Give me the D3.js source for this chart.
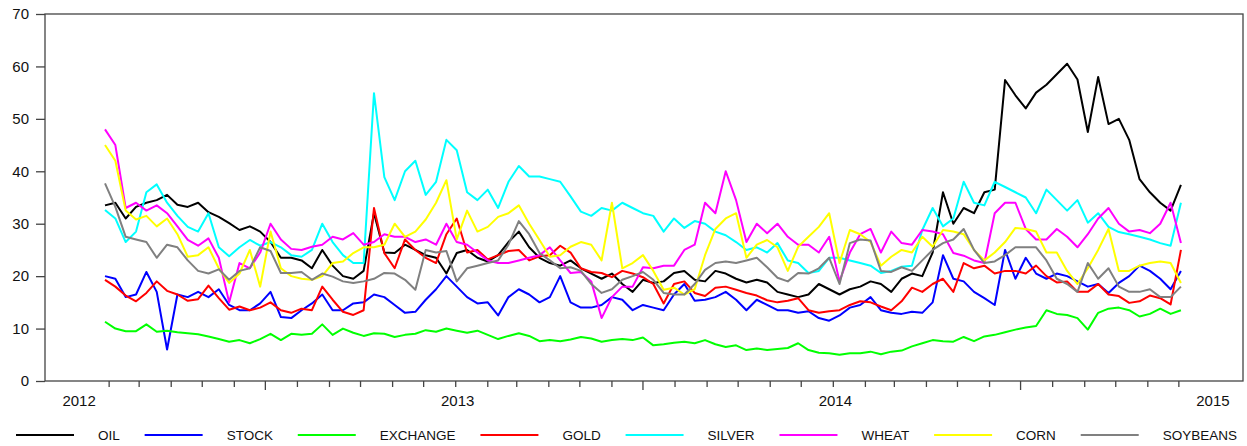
<!DOCTYPE html>
<html>
<head>
<meta charset="utf-8">
<script src="https://cdn.jsdelivr.net/npm/d3@7"></script>
<style>
  html, body { margin: 0; padding: 0; background: #fff; }
  svg { display: block; font-family: "Liberation Sans", Arial, sans-serif; }
</style>
</head>
<body>
<div id="chart"></div>
<script>
// --- Data: one observation every 10 days, starting 2012-01-28 ---
const START_DATE = Date.UTC(2012, 0, 28);
const STEP_DAYS = 10;

const SERIES_NAMES = ['OIL', 'STOCK', 'EXCHANGE', 'GOLD', 'SILVER', 'WHEAT', 'CORN', 'SOYBEANS'];
const YEAR_LABELS = [2012, 2013, 2014, 2015];
const Y_TICKS = [0, 10, 20, 30, 40, 50, 60, 70];

const OIL = [33.5,34,31,33.2,34,34.5,35.5,33.6,33.2,34,
  32.2,31.3,30.1,28.8,29.5,28.5,26.5,23.5,23.5,23,
  21.5,25,22,20,19.5,21,32,24.5,24.4,26,
  25,24,23.5,20.5,24.4,25,23.5,22.8,24,26.5,
  28.5,25.5,23.5,22.5,22,23,21.5,20.5,19.5,20.5,
  18.5,17,19.3,18.7,19,20.6,21,19.3,19,21,
  20.5,19.5,18.8,19.3,18.8,17,16.5,16,16.5,18.5,
  17.5,16.5,17.5,18,19,18.5,17,19.5,20.5,20,
  24.5,36,30,33,32,36,36.5,57.4,54.5,52,
  55,56.5,58.5,60.5,57.5,47.5,58,49,50,46,
  38.5,36,34,32.5,37.4];

const STOCK = [20,19.5,16,16.5,20.8,17,6,16.5,16,17,
  16,17.5,14.5,13.5,13.5,14.8,17,12.2,12,13.5,
  14.8,16.5,13.5,13.5,14.8,15,16.5,16,14.5,13,
  13.2,15.5,17.5,20,18,16,14.8,15,12.5,16,
  17.5,16.5,15,16,20,15,14,14,14.5,16,
  15.5,13.5,14.5,14,13.5,16.5,18.5,15.3,15.5,16,
  17,15.5,13.5,15.5,14.5,13.5,13.5,13,13.3,12,
  11.5,12.5,14,14.5,16,13.5,13,12.8,13.2,13,
  15,24,19.5,19,17,15.8,14.5,25,19.5,23.5,
  20.5,19.5,20.5,20,19,18,18.5,16.8,18.7,20,
  22,21,19.5,17.5,21];

const EXCHANGE = [11.3,10,9.5,9.5,10.8,9.4,9.6,9.3,9.1,8.9,
  8.5,8,7.5,7.8,7.2,8,9,7.8,9,8.8,
  9,10.8,8.8,10,9.2,8.6,9.1,9,8.4,8.8,
  9,9.7,9.4,10,9.6,9.2,9.6,8.8,8,8.6,
  9.1,8.6,7.6,7.8,7.6,7.9,8.4,8.1,7.5,7.8,
  8,7.8,8.3,6.8,7,7.3,7.5,7.2,7.8,7,
  6.5,6.8,5.9,6.2,5.9,6.1,6.3,7.2,5.9,5.4,
  5.3,5,5.3,5.3,5.6,5.1,5.6,5.8,6.6,7.2,
  7.8,7.6,7.5,8.4,7.6,8.5,8.8,9.3,9.8,10.2,
  10.5,13.5,12.8,12.6,12,9.8,13,13.8,14,13.5,
  12.3,12.8,13.8,12.8,13.5];

const GOLD = [19.3,18,16.3,15.2,16.8,19,17.2,16.5,15.3,15.6,
  18.2,15.8,13.6,14.2,13.5,14,15,13.5,13,13.8,
  13.5,18,15.5,13.2,12.6,13.5,33,24.4,21.5,27,
  25,23.5,22.5,28,31,24.5,25,23.2,24,24.8,
  25,23,23.8,24,25.8,24.5,21.5,20.8,20.6,19.8,
  21,20.5,19.8,18.5,14.8,18.5,19,16.8,16.2,17.8,
  18,17.4,16.8,16.3,15.4,15,15.3,15.8,13.5,13,
  13.3,13.5,14.5,15.2,15,14.2,13.5,15.2,17.8,17,
  18.5,19.5,17,22.5,21.5,22,20.5,21,21,20.5,
  22,20,18.8,19,17,17,18.5,16.5,16.2,14.9,
  15.2,16.3,15.8,14.6,25];

const SILVER = [32.6,31,26.5,28.5,36,37.5,34,31.5,29.4,28.5,
  32,25.5,23.8,25.5,26.9,25.8,26.5,25.5,24,23.7,
  25,30,26.5,24,22.5,22.5,54.9,38.9,34.5,40,
  42,35.5,38,46,44,36,34.5,36.5,33,38,
  41,39,39,38.5,38,35.2,32.3,31.5,33,32.5,
  34,33,32,31.5,28.5,31,29.2,30.5,30,28.5,
  27.8,26.5,25,25.5,24.5,26.3,23,22.5,20.6,21,
  23.5,23.5,23,22.5,22,20.6,21,21.8,22,28.8,
  33,29.5,31,38,34,33.5,38,37,36,35,
  32,36.5,34.5,32.5,34.5,30.2,32,29.4,28.4,28,
  27.5,27,26.3,25.8,34];

const WHEAT = [48,45,33,34,32.5,33.5,32,29.5,26.9,25.8,
  27.2,23.5,15,22.5,21.5,24.5,30,27,25.2,25,
  25.6,26,27.5,27,28.2,26,26.5,28,27.5,27.5,
  26.5,27,26,30,26.5,26,24.5,23,22.5,22.5,
  23,23.5,24,25.5,23,20.6,20.8,19,12,16,
  18,18,21.7,21.5,22,22,25,26,34,32,
  40,34.5,26.5,30,28.2,30,27.5,26,26,24.5,
  27.5,19,24.5,28,29,24.5,28.5,26.3,26,28.8,
  28.5,28,24.4,23.9,23,22.5,32,34,34,29,
  27,27,29,27.5,25.5,28,31,33,30,28.5,
  28.8,28.2,30,34,26.3];

const CORN = [45,42,32.5,30.8,31.5,29.5,31,28,23.7,24,
  25.5,21.5,18.7,20.5,25,18,28.5,21.5,20,19.5,
  19.3,20,22.5,22.8,24.4,25.5,25.5,26,30,27.5,
  28.5,30.8,34,38.3,27,32.5,28.5,29.4,31.3,32,
  33.5,30,26.9,23.7,24,25.6,26.5,26,23,34,
  21.5,22.5,24,21,17.4,17.8,16.5,17.5,24,29,
  31,32,23.5,26,26.9,25.5,21,25.6,27.5,29.4,
  32,22.5,28.8,28,26.5,22,23.7,25,24.5,27.5,
  25.6,28.8,28.5,28,25,23,24.5,26.5,29.2,29,
  28.5,24.5,24.5,21,18.5,21.5,25,29,21,21,
  22,22.5,22.8,22.5,18.7];

const SOYBEANS = [37.7,33.2,27.5,27,26.5,23.5,26,25.5,23,21,
  20.5,21.3,19.3,21,21.5,25.5,24.8,20.6,20.6,20.8,
  19.3,20.5,19.9,19,18.7,19,19.5,20.6,20.5,19.3,
  17.4,25,24.5,24.8,19,21.5,22,22.5,23,26,
  30.5,28,24.4,23,21.5,21.7,21,18.5,16.8,17.5,
  19.3,20,20.8,19.3,16.8,16.5,16.5,18.5,21.2,22.5,
  22.8,22.5,23,23.5,21.7,19.7,19,20.6,20.5,21.5,
  23.5,18.5,26.3,27,26.8,21,20.8,21.7,21,23,
  25,26.3,27,29,25,22.5,22.8,24,25.5,25.5,
  25.5,23,19.5,18.5,17,22.5,19.5,21.5,18,17,
  17,17.5,16,16,18];

const SERIES_VALUES = [OIL, STOCK, EXCHANGE, GOLD, SILVER, WHEAT, CORN, SOYBEANS];

// --- Styles ---
const COLORS = ['#000000', '#0000ff', '#00ff00', '#ff0000', '#00ffff', '#ff00ff', '#ffff00', '#808080'];

const width = 1247;
const height = 446;
const plot = { left: 45, right: 1243, top: 14, bottom: 381 };

const svg = d3.select('#chart')
  .append('svg')
  .attr('width', width)
  .attr('height', height);

const x = d3.scaleUtc()
  .domain([new Date(Date.UTC(2011, 11, 1)), new Date(Date.UTC(2015, 1, 1))])
  .range([plot.left, plot.right]);

const y = d3.scaleLinear()
  .domain([0, 70])
  .range([plot.bottom, plot.top]);

const dateAt = i => d3.utcDay.offset(new Date(START_DATE), i * STEP_DAYS);

// Series lines
const line = d3.line()
  .x((d, i) => x(dateAt(i)))
  .y(d => y(d));

SERIES_VALUES.forEach((values, k) => {
  svg.append('path')
    .datum(values)
    .attr('fill', 'none')
    .attr('stroke', COLORS[k])
    .attr('stroke-width', 2)
    .attr('stroke-linejoin', 'round')
    .attr('d', line);
});

// Frame
svg.append('rect')
  .attr('x', plot.left)
  .attr('y', plot.top)
  .attr('width', plot.right - plot.left)
  .attr('height', plot.bottom - plot.top)
  .attr('fill', 'none')
  .attr('stroke', '#444')
  .attr('stroke-width', 1.3);

// Y axis
const yAxis = d3.axisLeft(y)
  .tickValues(Y_TICKS)
  .tickSize(9)
  .tickPadding(7);

svg.append('g')
  .attr('transform', `translate(${plot.left},0)`)
  .call(yAxis)
  .call(g => g.select('.domain').remove())
  .call(g => g.selectAll('line').attr('stroke', '#444').attr('stroke-width', 1.3))
  .call(g => g.selectAll('text')
    .attr('font-family', '"Liberation Sans", Arial, sans-serif')
    .attr('font-size', 15)
    .attr('fill', '#111'));

// X axis: monthly ticks, longer in July
const months = d3.utcMonth.range(new Date(Date.UTC(2012, 1, 1)), new Date(Date.UTC(2015, 0, 1)));
const xAxis = svg.append('g');
months.forEach(m => {
  const long = m.getUTCMonth() === 6;
  xAxis.append('line')
    .attr('x1', x(m))
    .attr('x2', x(m))
    .attr('y1', plot.bottom)
    .attr('y2', plot.bottom + (long ? 9 : 6))
    .attr('stroke', '#444')
    .attr('stroke-width', 1.3);
});

YEAR_LABELS.forEach(yr => {
  xAxis.append('text')
    .attr('x', x(new Date(Date.UTC(yr, 0, 1))) + 2)
    .attr('y', 406)
    .attr('text-anchor', 'middle')
    .attr('font-size', 15)
    .attr('fill', '#111')
    .text(yr);
});

// Legend
const legend = svg.append('g');
const lineLen = 58;
const labelGap = 24;
const legendLeft = 16;
const legendRight = 1237;
const legendY = 435;

const labels = SERIES_NAMES.map(name => legend.append('text')
  .attr('font-size', 13.5)
  .attr('fill', '#111')
  .attr('y', legendY + 5)
  .text(name));

const textW = labels.map(t => t.node().getComputedTextLength());
const used = d3.sum(textW) + SERIES_NAMES.length * (lineLen + labelGap);
const itemGap = (legendRight - legendLeft - used) / (SERIES_NAMES.length - 1);

let lx = legendLeft;
SERIES_NAMES.forEach((name, k) => {
  legend.append('line')
    .attr('x1', lx)
    .attr('x2', lx + lineLen)
    .attr('y1', legendY)
    .attr('y2', legendY)
    .attr('stroke', COLORS[k])
    .attr('stroke-width', 2);
  labels[k].attr('x', lx + lineLen + labelGap);
  lx += lineLen + labelGap + textW[k] + itemGap;
});
</script>
</body>
</html>
